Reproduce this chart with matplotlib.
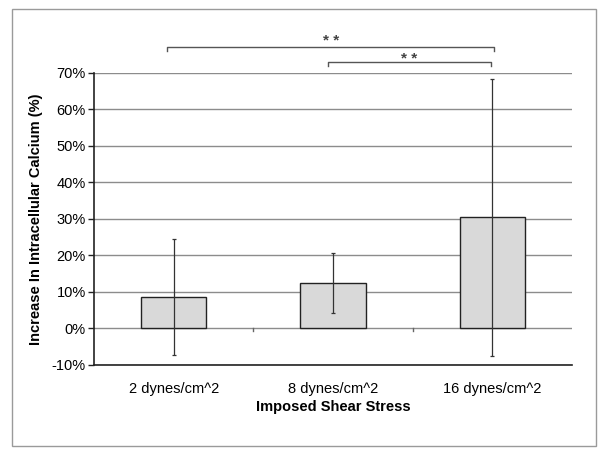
import matplotlib.pyplot as plt
from matplotlib.patches import Rectangle

plt.rcParams['font.family'] = ['Liberation Sans', 'DejaVu Sans']

labels = ["2 dynes/cm^2", "8 dynes/cm^2", "16 dynes/cm^2"]
means = [8.6, 12.4, 30.4]
errs = [15.8, 8.2, 37.9]
yticks = [-10, 0, 10, 20, 30, 40, 50, 60, 70]

# significance brackets: (start, end, height, star baseline)
brackets = [(-0.04, 2.01, 77.0, 77.6), (0.97, 1.99, 72.9, 72.6)]

fig = plt.figure(figsize=(6.04, 4.55), dpi=100)
fig.patches.append(Rectangle((12 / 604, 9 / 455), 584 / 604, 437 / 455,
                             transform=fig.transFigure, fill=False,
                             edgecolor='#9a9a9a', linewidth=1.0))
ax = fig.add_axes([0.156, 0.198, 0.791, 0.642])

x = range(len(labels))
ax.bar(x, means, width=0.41, color='#d9d9d9', edgecolor='#222222',
       linewidth=1.0, zorder=3)
ax.errorbar(x, means, yerr=errs, fmt='none', ecolor='#333333',
            elinewidth=0.9, capsize=1.5, capthick=0.9, zorder=4)

ax.set_xlim(-0.5, 2.5)
ax.set_ylim(-10, 70)
ax.set_yticks(yticks)
ax.set_yticklabels([f"{v}%" for v in yticks], fontsize=10.5)
ax.set_xticks(list(x))
ax.set_xticklabels(labels, fontsize=10.5)
ax.tick_params(axis='x', length=0, pad=12)
ax.tick_params(axis='y', length=4, width=1, color='#222222', direction='out', pad=2)

ax.grid(axis='y', color='#8c8c8c', linewidth=1.0, zorder=0)
ax.set_axisbelow(True)
for s in ['top', 'right']:
    ax.spines[s].set_visible(False)
for s in ['left', 'bottom']:
    ax.spines[s].set_color('#222222')
    ax.spines[s].set_linewidth(1.2)

# category axis at 0 with small tick marks between categories
for b in [0.5, 1.5]:
    ax.plot([b, b], [0, -0.8], color='#666666', linewidth=1.0, zorder=2)

for x0, x1, h, sb in brackets:
    ax.plot([x0, x0, x1, x1], [h - 1.1, h, h, h - 1.1], color='#555555',
            linewidth=1.0, clip_on=False)
    ax.text((x0 + x1) / 2, sb, "* *", ha='center', va='baseline',
            fontsize=11, fontweight='bold', color='#444444', clip_on=False)

ax.set_xlabel("Imposed Shear Stress", fontsize=10.5, fontweight='bold', labelpad=3)
ax.set_ylabel("Increase In Intracellular Calcium (%)", fontsize=10.5,
              fontweight='bold', labelpad=6)

fig.savefig("out.png", dpi=100)
